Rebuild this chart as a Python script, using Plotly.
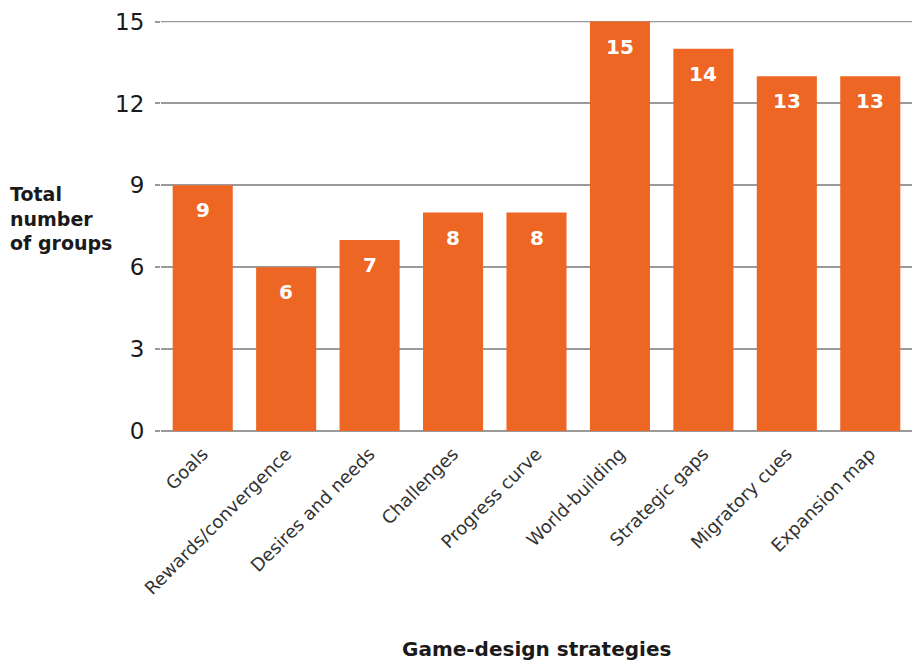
import plotly.graph_objects as go

categories = ["Goals", "Rewards/convergence", "Desires and needs", "Challenges",
              "Progress curve", "World-building", "Strategic gaps", "Migratory cues",
              "Expansion map"]
values = [9, 6, 7, 8, 8, 15, 14, 13, 13]
y_ticks = [0, 3, 6, 9, 12, 15]

BAR = "#EE6624"
GRID = "#9a9a9a"
FONT = "DejaVu Sans"

fig = go.Figure()
fig.add_trace(go.Bar(x=categories, y=values, marker=dict(color=BAR, line=dict(width=0)),
                     hoverinfo="skip"))

annotations = []
for c, v in zip(categories, values):
    annotations.append(dict(x=c, y=v, xref="x", yref="y", text=f"<b>{v}</b>",
                            showarrow=False, yanchor="middle", yshift=-25,
                            font=dict(family=FONT, size=20, color="white")))

L, T, W, H = 161, 21, 751, 410
annotations.append(dict(xref="paper", yref="paper", x=(8 - L) / W, y=(431 - 218) / H,
                        xanchor="left", yanchor="middle", align="left",
                        text="<b>Total<br>number<br>of groups</b>", showarrow=False,
                        font=dict(family=FONT, size=19, color="#1a1a1a")))
annotations.append(dict(xref="paper", yref="paper", x=(536 - L) / W, y=(431 - 649) / H,
                        xanchor="center", yanchor="middle",
                        text="<b>Game-design strategies</b>", showarrow=False,
                        font=dict(family=FONT, size=20, color="#1a1a1a")))

# top gridline (plotly drops the gridline at the range edge)
fig.add_shape(type="line", xref="paper", yref="y", x0=0, x1=1,
              y0=max(y_ticks), y1=max(y_ticks), layer="below",
              line=dict(color=GRID, width=1.5))

fig.update_layout(
    width=912, height=662,
    margin=dict(l=L, r=912 - L - W, t=T, b=662 - T - H),
    paper_bgcolor="white", plot_bgcolor="white",
    bargap=0.28,
    showlegend=False,
    annotations=annotations,
    xaxis=dict(tickangle=-45, tickfont=dict(family=FONT, size=18, color="#333333"),
               showgrid=False, showline=False, ticks="", zeroline=False,
               ticklabelstandoff=8, automargin=False),
    yaxis=dict(range=[0, 15.02], tickvals=y_ticks, ticktext=[str(t) for t in y_ticks],
               tickfont=dict(family=FONT, size=23, color="#1a1a1a"),
               showgrid=True, gridcolor=GRID, gridwidth=1.5,
               zeroline=True, zerolinecolor=GRID, zerolinewidth=1.5,
               ticks="outside", ticklen=5, tickcolor=GRID, tickwidth=1.5,
               showline=False, ticklabelstandoff=6, automargin=False),
)

fig.write_html("out.html", config={"displayModeBar": False},
               post_script="document.body.style.margin='0';document.body.style.padding='0';")
